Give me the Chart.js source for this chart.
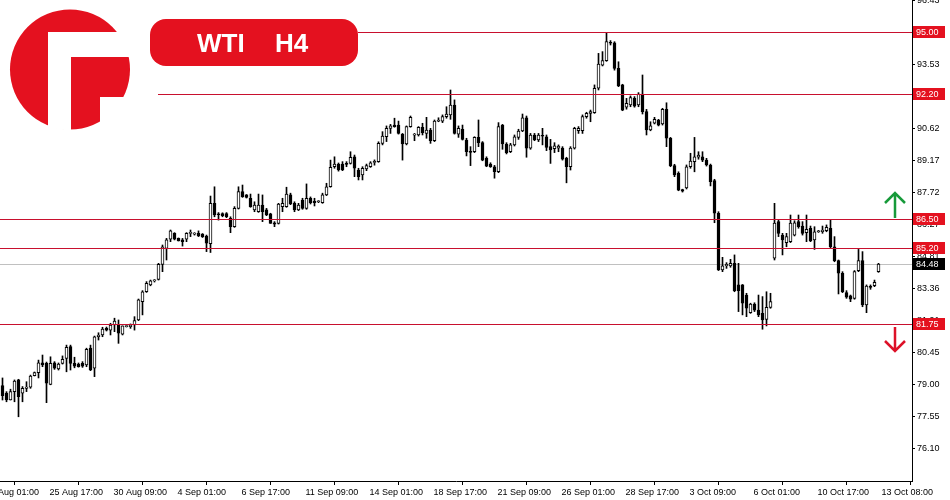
<!DOCTYPE html>
<html>
<head>
<meta charset="utf-8">
<script src="https://cdn.jsdelivr.net/npm/chart.js@4.4.0/dist/chart.umd.min.js"></script>
<style>
html,body{margin:0;padding:0;background:#fff;}
#wrap{width:950px;height:500px;}
</style>
</head>
<body>
<div id="wrap"><canvas id="c" width="950" height="500"></canvas></div>
<script>
// ---- data (WTI, H4 candles, oldest first) ----
const opens = [78.96,78.62,78.31,78.69,79.22,78.62,78.84,78.89,79.41,79.55,80.00,79.97,79.02,80.00,79.72,79.97,80.20,80.73,79.97,79.94,79.97,79.90,80.66,79.75,81.18,81.26,81.56,81.48,81.71,81.71,81.30,81.64,81.64,81.71,81.94,82.77,83.22,83.53,83.71,83.78,84.46,85.19,85.60,85.87,85.64,85.57,85.60,85.87,85.83,85.87,85.83,85.75,85.40,87.23,86.73,86.76,86.76,86.55,86.17,87.00,87.76,87.61,87.46,86.93,86.85,87.15,86.93,86.75,86.35,86.32,87.08,87.08,87.61,87.23,86.93,87.38,87.00,87.46,87.32,87.30,87.26,87.61,87.98,88.89,89.01,89.01,89.04,89.04,89.34,88.74,88.52,88.79,88.89,89.08,89.12,89.95,90.25,90.63,90.78,90.78,90.36,89.92,90.71,90.32,90.33,90.68,90.40,90.55,90.07,90.96,90.96,91.16,91.24,91.69,90.37,90.59,90.10,89.57,89.57,90.22,89.98,89.27,89.01,88.89,88.66,90.78,89.92,89.57,89.88,90.22,90.51,91.11,89.73,90.33,90.10,90.28,90.25,89.80,89.71,89.73,89.73,89.27,88.89,89.73,90.52,90.52,91.16,91.31,91.34,92.45,93.50,93.70,94.51,94.51,93.35,92.60,91.59,91.69,91.99,91.69,92.19,91.39,90.56,90.86,91.01,90.83,91.49,90.18,88.94,88.59,87.85,87.93,88.89,89.12,89.32,89.34,89.19,88.97,88.26,86.78,84.21,84.40,84.39,84.51,83.53,83.53,83.07,82.27,82.66,82.39,82.24,81.97,82.51,84.74,86.40,85.79,85.45,85.49,85.79,86.40,86.20,85.90,86.10,85.57,85.94,85.94,85.99,86.10,85.26,84.63,84.06,83.18,83.03,82.92,84.18,84.63,82.62,83.45,83.50,84.13];
const highs = [79.31,78.69,78.80,79.22,79.25,78.92,79.14,79.44,79.58,80.12,80.35,80.03,80.27,80.05,79.99,80.31,80.80,80.80,80.25,79.99,80.05,80.66,80.80,81.21,81.36,81.61,81.62,81.79,82.02,81.94,81.67,81.68,81.76,82.09,82.89,83.27,83.68,83.75,83.77,84.51,85.34,85.64,86.02,85.90,85.66,85.64,85.90,86.02,85.90,85.98,85.86,85.79,87.56,87.98,86.81,86.80,86.81,86.62,87.08,87.98,88.06,87.63,87.65,87.30,87.65,87.61,87.00,86.78,86.40,87.23,87.46,87.96,87.69,87.30,87.23,87.46,88.11,87.52,87.46,87.35,87.69,88.14,89.19,89.34,89.06,89.12,89.12,89.57,89.42,88.82,88.89,89.01,89.12,89.20,90.02,90.48,90.74,90.81,91.09,90.96,90.40,90.74,91.19,90.40,90.71,90.86,91.13,90.63,91.01,91.11,91.24,91.61,92.37,91.92,90.74,90.78,90.18,89.80,90.25,91.01,90.03,89.34,89.07,88.95,90.89,90.81,89.98,89.95,90.33,90.59,91.28,91.19,90.40,90.40,90.40,90.63,90.33,90.13,89.98,89.88,89.80,89.32,89.80,90.68,90.71,91.24,91.36,91.46,92.60,94.03,94.11,94.97,94.61,94.56,93.65,92.63,91.99,92.10,92.07,92.25,93.05,91.49,90.93,91.13,91.04,91.54,91.79,90.22,89.00,88.66,87.87,88.97,89.50,90.22,89.57,89.57,89.27,89.01,88.32,86.85,84.78,84.54,84.69,84.89,84.51,83.55,83.15,82.70,82.72,83.07,83.00,83.22,83.15,87.23,86.50,85.87,85.87,86.70,86.44,86.70,86.40,86.70,86.20,86.17,86.00,86.20,86.25,86.50,85.72,84.66,84.13,83.27,83.07,84.18,85.14,85.04,83.53,83.53,83.75,84.51];
const lows = [78.31,78.23,78.31,78.23,77.55,78.23,78.69,78.84,79.40,79.31,79.82,78.19,79.00,79.70,79.67,79.94,79.59,79.67,79.77,79.80,79.79,79.82,79.64,79.37,81.03,81.18,81.44,81.26,81.41,80.88,81.26,81.62,81.56,81.48,81.91,82.17,83.19,83.49,83.66,83.75,84.13,84.66,85.49,85.57,85.52,85.29,85.49,85.72,85.79,85.72,85.68,85.04,85.00,86.62,86.47,86.62,86.58,85.90,86.14,86.97,87.50,87.47,87.05,86.85,86.82,86.40,86.67,86.32,86.17,86.29,86.85,87.05,87.17,86.85,86.90,86.96,86.96,87.20,87.11,87.26,87.23,87.58,87.96,88.82,88.69,88.71,88.89,89.01,88.44,88.29,88.29,88.71,88.86,88.96,89.09,89.88,90.03,90.40,90.68,90.37,89.19,89.88,90.68,90.07,90.28,90.33,90.18,89.95,90.03,90.93,90.89,91.09,91.04,90.37,90.22,90.10,89.38,88.94,89.53,89.80,89.16,88.89,88.86,88.37,88.62,89.68,89.47,89.53,89.83,90.13,90.48,89.32,89.68,90.07,90.03,89.88,89.62,89.04,89.53,89.57,89.19,88.16,88.74,89.69,90.40,90.40,91.09,90.93,91.31,92.37,93.46,93.67,94.41,93.27,92.52,91.43,91.50,91.61,91.59,91.61,91.28,90.33,90.52,90.83,90.74,90.78,89.80,88.89,88.44,87.80,87.74,87.88,88.82,88.66,89.23,89.12,88.92,88.02,86.35,84.18,84.13,84.28,84.33,83.22,82.32,82.17,82.09,82.24,82.32,82.09,81.52,81.67,82.47,84.66,85.72,84.89,85.26,85.45,85.75,86.10,85.79,85.49,85.49,85.14,85.91,85.87,85.94,85.19,84.58,83.12,83.18,82.92,82.77,82.88,84.13,82.54,82.27,83.33,83.45,84.10];
const closes = [78.51,78.31,78.69,79.17,78.46,78.84,78.90,79.40,79.55,80.00,79.90,79.07,79.97,79.75,79.94,80.16,80.70,79.97,79.85,79.82,79.85,80.61,79.67,81.18,81.26,81.53,81.48,81.71,81.89,81.34,81.67,81.65,81.71,81.91,82.85,83.22,83.60,83.72,83.74,84.46,85.26,85.57,85.98,85.60,85.53,85.49,85.87,85.90,85.87,85.75,85.72,85.42,87.23,86.70,86.71,86.67,86.62,86.17,87.00,87.76,87.53,87.50,87.08,87.15,87.15,86.85,86.70,86.32,86.29,87.20,87.23,87.65,87.20,86.93,87.15,87.00,87.46,87.26,87.26,87.31,87.61,87.98,88.86,89.01,88.74,88.74,89.00,89.32,88.82,88.44,88.82,88.94,89.07,89.13,89.95,90.28,90.63,90.74,90.71,90.40,89.92,90.71,91.13,90.34,90.68,90.43,90.55,90.07,90.96,91.01,91.16,91.28,91.69,90.40,90.63,90.13,89.57,89.54,90.22,89.98,89.19,88.92,88.89,88.66,90.71,89.92,89.53,89.88,90.25,90.51,91.11,89.73,90.33,90.10,90.33,90.27,89.77,89.65,89.84,89.83,89.23,88.89,89.73,90.63,90.63,91.16,91.31,91.39,92.45,93.55,93.70,94.56,94.49,93.35,92.55,91.46,91.77,92.02,91.64,92.19,91.39,90.56,90.74,91.04,90.78,91.49,90.18,88.94,88.52,87.83,87.78,88.89,89.15,89.34,89.42,89.19,88.97,88.21,86.78,84.21,84.39,84.46,84.51,83.27,83.27,82.70,82.47,82.66,82.39,82.17,81.94,82.51,82.77,86.33,85.87,85.57,85.72,86.33,86.35,86.17,85.87,86.05,85.53,85.94,85.97,86.02,86.14,85.26,84.63,84.06,83.22,82.97,82.88,84.13,84.63,82.62,83.48,83.42,83.65,84.48];

// levels and texts
const levels = [95.00, 92.20, 86.50, 85.20, 81.75];
const currentPrice = 84.48;
const yTickValues = [96.43,94.98,93.53,92.08,90.62,89.17,87.72,86.27,84.81,83.36,81.91,80.45,79.00,77.55,76.10];
const xTickIndex = [-5,11,27,43,59,75,91,107,123,139,155,171,187,203,219];
const xTickLabels = ['24 Aug 01:00','25 Aug 17:00','30 Aug 09:00','4 Sep 01:00','6 Sep 17:00','11 Sep 09:00','14 Sep 01:00','18 Sep 17:00','21 Sep 09:00','26 Sep 01:00','28 Sep 17:00','3 Oct 09:00','6 Oct 01:00','10 Oct 17:00','13 Oct 08:00'];
const titleSymbol = 'WTI';
const titlePeriod = 'H4';

// ---- build datasets from the arrays ----
const bodyData = opens.map((o, i) => ({x: i, y: [Math.min(o, closes[i]), Math.max(o, closes[i])]}));
const wickData = highs.map((h, i) => ({x: i, y: [lows[i], h]}));

const RED = '#e4111f';
const LINE_RED = '#c8102e';
const FONT = '"Liberation Sans", Arial, sans-serif';

const overlay = {
  id: 'overlay',
  beforeDatasetsDraw(chart) {
    const {ctx, chartArea: a, scales: {y}} = chart;
    ctx.save();
    const py = Math.round(y.getPixelForValue(currentPrice)) + 0.5;
    ctx.strokeStyle = '#c0c0c0';
    ctx.lineWidth = 1;
    ctx.beginPath(); ctx.moveTo(a.left, py); ctx.lineTo(a.right, py); ctx.stroke();
    ctx.restore();
  },
  afterDatasetsDraw(chart) {
    const {ctx, chartArea: a, scales: {y}} = chart;
    ctx.save();
    ctx.strokeStyle = LINE_RED;
    ctx.lineWidth = 1;
    const starts = [358, 158, 0, 0, 0];
    levels.forEach((v, k) => {
      const py = Math.round(y.getPixelForValue(v)) + 0.5;
      ctx.beginPath(); ctx.moveTo(a.left + starts[k], py); ctx.lineTo(a.right, py); ctx.stroke();
    });
    ctx.restore();
  },
  afterDraw(chart) {
    const {ctx, chartArea: a, scales: {y}} = chart;
    ctx.save();
    // right-side price tags
    ctx.font = '9px ' + FONT;
    ctx.textBaseline = 'middle';
    ctx.textAlign = 'left';
    const tag = (v, bg) => {
      const py = Math.round(y.getPixelForValue(v));
      ctx.fillStyle = bg;
      ctx.fillRect(a.right + 1, py - 6, 32, 12);
      ctx.fillStyle = '#fff';
      ctx.fillText(v.toFixed(2), a.right + 4, py + 0.5);
    };
    levels.forEach(v => tag(v, RED));
    tag(currentPrice, '#000');

    // arrows
    const arrow = (x, yTip, yTail, color) => {
      ctx.strokeStyle = color;
      ctx.lineWidth = 2.5;
      ctx.lineCap = 'butt';
      ctx.beginPath();
      ctx.moveTo(x, yTail); ctx.lineTo(x, yTip);
      const d = yTip < yTail ? 1 : -1;
      ctx.moveTo(x - 10, yTip + d * 10); ctx.lineTo(x, yTip); ctx.lineTo(x + 10, yTip + d * 10);
      ctx.stroke();
    };
    arrow(895, 193, 218, '#179a3a');
    arrow(895, 351, 327, '#dd1128');

    // title pill
    const px = 150, pyT = 19, pw = 208, ph = 47, r = 16;
    ctx.fillStyle = RED;
    ctx.beginPath();
    ctx.moveTo(px + r, pyT);
    ctx.lineTo(px + pw - r, pyT); ctx.arcTo(px + pw, pyT, px + pw, pyT + r, r);
    ctx.lineTo(px + pw, pyT + ph - r); ctx.arcTo(px + pw, pyT + ph, px + pw - r, pyT + ph, r);
    ctx.lineTo(px + r, pyT + ph); ctx.arcTo(px, pyT + ph, px, pyT + ph - r, r);
    ctx.lineTo(px, pyT + r); ctx.arcTo(px, pyT, px + r, pyT, r);
    ctx.closePath(); ctx.fill();
    ctx.fillStyle = '#fff';
    ctx.font = 'bold 26px ' + FONT;
    ctx.textBaseline = 'alphabetic';
    ctx.fillText(titleSymbol, 197, 52);
    ctx.fillText(titlePeriod, 275, 52);

    // logo: red disc with a white "F" cut-out
    ctx.fillStyle = RED;
    ctx.beginPath(); ctx.arc(70, 69.5, 60, 0, Math.PI * 2); ctx.fill();
    ctx.save();
    ctx.beginPath(); ctx.arc(70, 69.5, 61, 0, Math.PI * 2); ctx.clip();
    ctx.fillStyle = '#fff';
    ctx.fillRect(48, 32, 23, 110);   // vertical gap left of the stem
    ctx.fillRect(71, 32, 70, 25);    // gap above the arm
    ctx.fillRect(100, 97, 40, 50);   // notch below the arm
    ctx.restore();
    ctx.restore();
  }
};

new Chart(document.getElementById('c'), {
  type: 'bar',
  data: {
    datasets: [
      {
        label: 'body', data: bodyData, grouped: false, barThickness: 3, minBarLength: 1,
        borderWidth: 1, borderColor: '#000', borderSkipped: false,
        backgroundColor: c => (closes[c.dataIndex] >= opens[c.dataIndex] ? '#fff' : '#000')
      },
      {
        label: 'wick', data: wickData, grouped: false, barThickness: 1,
        borderWidth: 0, backgroundColor: '#000'
      }
    ]
  },
  options: {
    responsive: false, animation: false, events: [],
    layout: {padding: 0},
    plugins: {legend: {display: false}, tooltip: {enabled: false}},
    scales: {
      x: {
        type: 'linear', min: -0.625, max: 227.375, offset: false,
        grid: {drawOnChartArea: false, drawTicks: true, tickLength: 4, color: '#000'},
        border: {display: true, color: '#000'},
        ticks: {
          autoSkip: false, maxRotation: 0, align: 'start', padding: 2, labelOffset: 3,
          color: '#000', font: {family: FONT, size: 9},
          callback: (v, i) => xTickLabels[i]
        },
        afterBuildTicks: s => { s.ticks = xTickIndex.map(v => ({value: v})); },
        afterFit: s => { s.height = 19; s.paddingLeft = 0; s.paddingRight = 0; }
      },
      y: {
        type: 'linear', position: 'right', min: 74.637, max: 96.451,
        grid: {drawOnChartArea: false, drawTicks: true, tickLength: 3, color: '#000'},
        border: {display: true, color: '#000'},
        ticks: {padding: 2, color: '#000', font: {family: FONT, size: 9}, callback: v => v.toFixed(2)},
        afterBuildTicks: s => { s.ticks = yTickValues.map(v => ({value: v})); },
        afterFit: s => { s.width = 38; s.paddingTop = 0; s.paddingBottom = 0; }
      }
    }
  },
  plugins: [overlay]
});
</script>
</body>
</html>
